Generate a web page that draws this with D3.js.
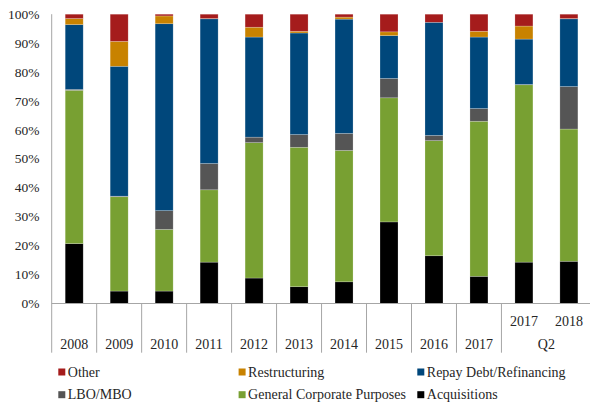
<!DOCTYPE html>
<html>
<head>
<meta charset="utf-8">
<script src="https://cdn.jsdelivr.net/npm/d3@7/dist/d3.min.js"></script>
<style>
  body { margin: 0; background: #fff; }
  svg { display: block; font-family: "Liberation Serif", "Times New Roman", serif; }
</style>
</head>
<body>
<svg id="chart" width="590" height="408"></svg>
<script>
// ---- data ----
const categories = ["2008","2009","2010","2011","2012","2013","2014","2015","2016","2017","Q2 2017","Q2 2018"];
const yearLabels = ["2008","2009","2010","2011","2012","2013","2014","2015","2016","2017"];
const q2Labels = ["2017","2018"];
const q2GroupLabel = "Q2";
const seriesNames = ["Acquisitions","General Corporate Purposes","LBO/MBO","Repay Debt/Refinancing","Restructuring","Other"];
const acquisitions = [20.7, 4.3, 4.3, 14.3, 8.8, 5.8, 7.5, 28.2, 16.5, 9.4, 14.3, 14.6];
const generalCorp  = [53.0, 32.6, 21.3, 25.0, 46.8, 48.2, 45.4, 42.9, 39.8, 53.6, 61.3, 45.7];
const lboMbo       = [0.3, 0.2, 6.5, 9.1, 1.9, 4.4, 5.9, 6.7, 1.8, 4.4, 0.1, 14.7];
const repayDebt    = [22.4, 44.9, 64.6, 50.0, 34.6, 35.1, 39.5, 14.8, 39.1, 24.7, 15.7, 23.4];
const restructuring= [2.1, 8.6, 2.7, 0.1, 3.4, 0.6, 0.7, 1.3, 0.0, 2.0, 4.5, 0.1];
const other        = [1.5, 9.4, 0.6, 1.5, 4.5, 5.9, 1.0, 6.1, 2.8, 5.9, 4.1, 1.5];
const yTicks = [0,10,20,30,40,50,60,70,80,90,100];
const legendOrder = ["Other","Restructuring","Repay Debt/Refinancing","LBO/MBO","General Corporate Purposes","Acquisitions"];

const colors = {
  "Acquisitions": "#000000",
  "General Corporate Purposes": "#78A032",
  "LBO/MBO": "#555555",
  "Repay Debt/Refinancing": "#00477B",
  "Restructuring": "#C88200",
  "Other": "#A51C1C"
};

const valuesBySeries = {
  "Acquisitions": acquisitions,
  "General Corporate Purposes": generalCorp,
  "LBO/MBO": lboMbo,
  "Repay Debt/Refinancing": repayDebt,
  "Restructuring": restructuring,
  "Other": other
};

const rows = categories.map((c, i) => {
  const r = { cat: c };
  seriesNames.forEach(s => r[s] = valuesBySeries[s][i]);
  return r;
});

// normalize to 100%
rows.forEach(r => {
  const tot = d3.sum(seriesNames, s => r[s]);
  seriesNames.forEach(s => r[s] = r[s] / tot * 100);
});

const svg = d3.select("#chart");
const x0 = 51.7, x1 = 591.4, yTop = 14.2, yBot = 303.5, axisBottom = 352.7;

const x = d3.scaleBand().domain(categories).range([x0, x1]).paddingInner(0.6).paddingOuter(0.3);
const y = d3.scaleLinear().domain([0, 100]).range([yBot, yTop]);

const stack = d3.stack().keys(seriesNames)(rows);

svg.append("g").selectAll("g").data(stack).join("g")
  .attr("fill", d => colors[d.key])
  .selectAll("rect").data(d => d).join("rect")
  .attr("x", d => x(d.data.cat))
  .attr("width", x.bandwidth())
  .attr("y", d => y(d[1]))
  .attr("height", d => Math.max(0, y(d[0]) - y(d[1])))
  .attr("stroke", "rgba(255,255,255,0.35)")
  .attr("stroke-width", 0.6);

// y axis
const axisColor = "#a6a6a6";
svg.append("line").attr("x1", x0).attr("x2", x0).attr("y1", yTop).attr("y2", axisBottom)
  .attr("stroke", axisColor).attr("stroke-width", 1);
svg.append("g").selectAll("text").data(yTicks).join("text")
  .attr("x", 39.5).attr("y", d => y(d) + 4.6)
  .attr("text-anchor", "end").attr("font-size", 13.5).attr("fill", "#262626")
  .text(d => d + "%");

// x axis
svg.append("line").attr("x1", x0).attr("x2", 590).attr("y1", yBot).attr("y2", yBot)
  .attr("stroke", axisColor).attr("stroke-width", 1);
const step = x.step();
const boundaries = d3.range(1, 11).map(i => x0 + i * step);
svg.append("g").selectAll("line").data(boundaries).join("line")
  .attr("x1", d => d).attr("x2", d => d).attr("y1", yBot).attr("y2", axisBottom)
  .attr("stroke", axisColor).attr("stroke-width", 1);

const center = c => x(c) + x.bandwidth() / 2;
svg.append("g").selectAll("text").data(yearLabels).join("text")
  .attr("x", d => center(d)).attr("y", 348.8)
  .attr("text-anchor", "middle").attr("font-size", 14).attr("fill", "#262626")
  .text(d => d);
svg.append("g").selectAll("text").data(q2Labels).join("text")
  .attr("x", d => center("Q2 " + d)).attr("y", 325.5)
  .attr("text-anchor", "middle").attr("font-size", 14).attr("fill", "#262626")
  .text(d => d);
svg.append("text")
  .attr("x", (center("Q2 2017") + center("Q2 2018")) / 2).attr("y", 348.8)
  .attr("text-anchor", "middle").attr("font-size", 14).attr("fill", "#262626")
  .text(q2GroupLabel);

// legend
const legX = [58.3, 238.6, 417.3];
const legY = [372, 394.7];
const leg = svg.append("g").selectAll("g").data(legendOrder).join("g")
  .attr("transform", (d, i) => `translate(${legX[i % 3]},${legY[Math.floor(i / 3)]})`);
leg.append("rect").attr("x", 0).attr("y", -3.5).attr("width", 7).attr("height", 7)
  .attr("fill", d => colors[d]);
leg.append("text").attr("x", 9.5).attr("y", 4.6).attr("font-size", 14).attr("fill", "#262626")
  .text(d => d);
</script>
</body>
</html>
